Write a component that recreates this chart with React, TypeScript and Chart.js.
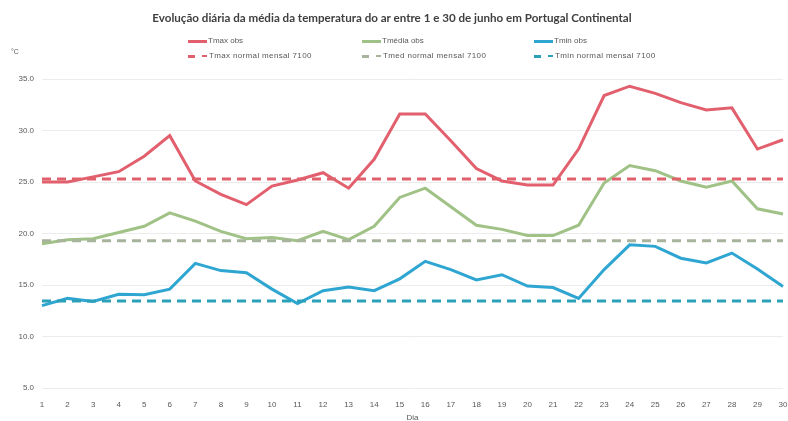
import React, { useEffect, useRef } from "react";
import { Chart, registerables } from "chart.js";

Chart.register(...registerables);

const days = ["1","2","3","4","5","6","7","8","9","10","11","12","13","14","15","16","17","18","19","20","21","22","23","24","25","26","27","28","29","30"];

const tmaxObs = [25.0, 25.0, 25.5, 26.0, 27.5, 29.5, 25.1, 23.8, 22.8, 24.6, 25.2, 25.9, 24.4, 27.2, 31.6, 31.6, 29.0, 26.3, 25.1, 24.7, 24.7, 28.2, 33.4, 34.3, 33.6, 32.7, 32.0, 32.2, 28.2, 29.1];
const tmedObs = [19.0, 19.4, 19.5, 20.1, 20.7, 22.0, 21.2, 20.2, 19.5, 19.6, 19.3, 20.2, 19.4, 20.7, 23.5, 24.4, 22.6, 20.8, 20.4, 19.8, 19.8, 20.8, 24.9, 26.6, 26.1, 25.1, 24.5, 25.1, 22.4, 21.9];
const tminObs = [13.0, 13.7, 13.4, 14.1, 14.05, 14.6, 17.1, 16.4, 16.2, 14.6, 13.2, 14.45, 14.8, 14.45, 15.6, 17.3, 16.5, 15.5, 16.0, 14.9, 14.75, 13.7, 16.5, 18.9, 18.75, 17.6, 17.15, 18.1, 16.55, 14.85];
const tmaxNormal = [25.3, 25.3, 25.3, 25.3, 25.3, 25.3, 25.3, 25.3, 25.3, 25.3, 25.3, 25.3, 25.3, 25.3, 25.3, 25.3, 25.3, 25.3, 25.3, 25.3, 25.3, 25.3, 25.3, 25.3, 25.3, 25.3, 25.3, 25.3, 25.3, 25.3];
const tmedNormal = [19.3, 19.3, 19.3, 19.3, 19.3, 19.3, 19.3, 19.3, 19.3, 19.3, 19.3, 19.3, 19.3, 19.3, 19.3, 19.3, 19.3, 19.3, 19.3, 19.3, 19.3, 19.3, 19.3, 19.3, 19.3, 19.3, 19.3, 19.3, 19.3, 19.3];
const tminNormal = [13.45, 13.45, 13.45, 13.45, 13.45, 13.45, 13.45, 13.45, 13.45, 13.45, 13.45, 13.45, 13.45, 13.45, 13.45, 13.45, 13.45, 13.45, 13.45, 13.45, 13.45, 13.45, 13.45, 13.45, 13.45, 13.45, 13.45, 13.45, 13.45, 13.45];

const seriesNames = ["Tmax obs", "Tmédia obs", "Tmin obs", "Tmax normal mensal 7100", "Tmed normal mensal 7100", "Tmin normal mensal 7100"];

const RED = "#E2606E";
const GREEN = "#A0C286";
const BLUE = "#2FA6D2";
const RED_D = "#E0606C";
const GREEN_D = "#A8B39C";
const BLUE_D = "#2BA0B9";

const FONT = "'Liberation Sans', Arial, sans-serif";
const TXT = "#595959";

export default function App() {
  const ref = useRef<HTMLCanvasElement>(null);

  useEffect(() => {
    const dash = [9, 6];
    const chart = new Chart(ref.current!, {
      type: "line",
      data: {
        labels: days,
        datasets: [
          { label: seriesNames[3], data: tmaxNormal, borderColor: RED_D, borderWidth: 3, borderDash: dash, pointRadius: 0, order: 1 },
          { label: seriesNames[4], data: tmedNormal, borderColor: GREEN_D, borderWidth: 3, borderDash: dash, pointRadius: 0, order: 1 },
          { label: seriesNames[5], data: tminNormal, borderColor: BLUE_D, borderWidth: 3, borderDash: dash, pointRadius: 0, order: 1 },
          { label: seriesNames[0], data: tmaxObs, borderColor: RED, borderWidth: 3, pointRadius: 0, tension: 0, order: 2 },
          { label: seriesNames[1], data: tmedObs, borderColor: GREEN, borderWidth: 3, pointRadius: 0, tension: 0, order: 2 },
          { label: seriesNames[2], data: tminObs, borderColor: BLUE, borderWidth: 3, pointRadius: 0, tension: 0, order: 2 },
        ],
      },
      options: {
        animation: false,
        responsive: false,
        devicePixelRatio: 1,
        layout: { padding: { top: 79, right: 0, left: 0, bottom: 0 } },
        plugins: {
          legend: { display: false },
          title: { display: false },
          tooltip: { enabled: false },
        },
        scales: {
          x: {
            offset: false,
            grid: { display: false },
            border: { display: false },
            ticks: { font: { family: FONT, size: 8 }, color: TXT, padding: 4, maxRotation: 0, autoSkip: false },
            title: { display: true, text: "Dia", font: { family: FONT, size: 8 }, color: TXT, padding: { top: 0, bottom: -2 } },
            afterFit: (s: any) => { s.height = 33; s.paddingRight = 5; s.paddingLeft = 0; },
          },
          y: {
            min: 5,
            max: 35,
            ticks: { stepSize: 5, font: { family: FONT, size: 8 }, color: TXT, padding: 8, callback: (v: any) => Number(v).toFixed(1) },
            grid: { color: "#ececec", drawTicks: false, lineWidth: 1 },
            border: { display: false },
            afterFit: (s: any) => { s.width = 42; },
          },
        },
      },
    });
    return () => chart.destroy();
  }, []);

  const legendText: React.CSSProperties = { position: "absolute", fontFamily: FONT, fontSize: 8, color: TXT, lineHeight: "10px", whiteSpace: "nowrap" };
  const solid = (x: number, y: number, c: string) => (
    <div style={{ position: "absolute", left: x, top: y - 1, width: 19, height: 3, background: c }} />
  );
  const dashed = (x: number, y: number, c: string) => (
    <>
      <div style={{ position: "absolute", left: x, top: y - 1, width: 7, height: 3, background: c }} />
      <div style={{ position: "absolute", left: x + 14, top: y - 1, width: 5, height: 2, background: c }} />
    </>
  );
  const cols = [188, 362, 534];
  const r1 = 41;
  const r2 = 56;

  return (
    <div style={{ position: "absolute", left: 0, top: 0, width: 788, height: 421, background: "#fff", overflow: "hidden" }}>
      <canvas ref={ref} width={788} height={421} style={{ display: "block", position: "absolute", left: 0, top: 0 }} />
      <div style={{ position: "absolute", left: 0, width: 788, top: 11, textAlign: "center", fontFamily: "Lato, 'Open Sans', sans-serif", fontWeight: 700, fontSize: 11.6, color: "#404040" }}>
        <span style={{ position: "relative", left: -2 }}>Evolução diária da média da temperatura do ar entre 1 e 30 de junho em Portugal Continental</span>
      </div>
      <div style={{ ...legendText, left: 11, top: 47, fontSize: 7 }}>°C</div>
      {solid(cols[0], r1, RED)}
      <div style={{ ...legendText, left: cols[0] + 20, top: r1 - 5 }}>{seriesNames[0]}</div>
      {solid(cols[1], r1, GREEN)}
      <div style={{ ...legendText, left: cols[1] + 20, top: r1 - 5 }}>{seriesNames[1]}</div>
      {solid(cols[2], r1, BLUE)}
      <div style={{ ...legendText, left: cols[2] + 20, top: r1 - 5 }}>{seriesNames[2]}</div>
      {dashed(cols[0], r2, RED_D)}
      <div style={{ ...legendText, left: cols[0] + 21, top: r2 - 5, letterSpacing: 0.35 }}>{seriesNames[3]}</div>
      {dashed(cols[1], r2, GREEN_D)}
      <div style={{ ...legendText, left: cols[1] + 21, top: r2 - 5, letterSpacing: 0.35 }}>{seriesNames[4]}</div>
      {dashed(cols[2], r2, BLUE_D)}
      <div style={{ ...legendText, left: cols[2] + 21, top: r2 - 5, letterSpacing: 0.35 }}>{seriesNames[5]}</div>
    </div>
  );
}
